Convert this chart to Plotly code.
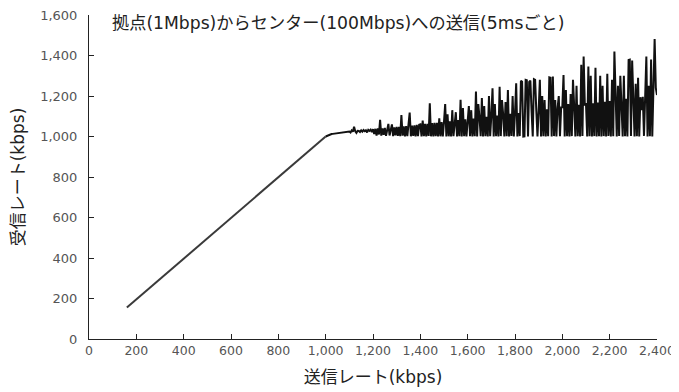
import plotly.graph_objects as go

# Linear region (sending rate below 1 Mbps)
x_linear = [160, 990, 1000]
y_linear = [155, 990, 1000]

# Saturated region: sending rate (kbps), sampled every 5 kbps
x_sat = [
    1000, 1005, 1010, 1015, 1020, 1025, 1030, 1035, 1040, 1045,
    1050, 1055, 1060, 1065, 1070, 1075, 1080, 1085, 1090, 1095,
    1100, 1105, 1110, 1115, 1120, 1125, 1130, 1135, 1140, 1145,
    1150, 1155, 1160, 1165, 1170, 1175, 1180, 1185, 1190, 1195,
    1200, 1205, 1210, 1215, 1220, 1225, 1230, 1235, 1240, 1245,
    1250, 1255, 1260, 1265, 1270, 1275, 1280, 1285, 1290, 1295,
    1300, 1305, 1310, 1315, 1320, 1325, 1330, 1335, 1340, 1345,
    1350, 1355, 1360, 1365, 1370, 1375, 1380, 1385, 1390, 1395,
    1400, 1405, 1410, 1415, 1420, 1425, 1430, 1435, 1440, 1445,
    1450, 1455, 1460, 1465, 1470, 1475, 1480, 1485, 1490, 1495,
    1500, 1505, 1510, 1515, 1520, 1525, 1530, 1535, 1540, 1545,
    1550, 1555, 1560, 1565, 1570, 1575, 1580, 1585, 1590, 1595,
    1600, 1605, 1610, 1615, 1620, 1625, 1630, 1635, 1640, 1645,
    1650, 1655, 1660, 1665, 1670, 1675, 1680, 1685, 1690, 1695,
    1700, 1705, 1710, 1715, 1720, 1725, 1730, 1735, 1740, 1745,
    1750, 1755, 1760, 1765, 1770, 1775, 1780, 1785, 1790, 1795,
    1800, 1805, 1810, 1815, 1820, 1825, 1830, 1835, 1840, 1845,
    1850, 1855, 1860, 1865, 1870, 1875, 1880, 1885, 1890, 1895,
    1900, 1905, 1910, 1915, 1920, 1925, 1930, 1935, 1940, 1945,
    1950, 1955, 1960, 1965, 1970, 1975, 1980, 1985, 1990, 1995,
    2000, 2005, 2010, 2015, 2020, 2025, 2030, 2035, 2040, 2045,
    2050, 2055, 2060, 2065, 2070, 2075, 2080, 2085, 2090, 2095,
    2100, 2105, 2110, 2115, 2120, 2125, 2130, 2135, 2140, 2145,
    2150, 2155, 2160, 2165, 2170, 2175, 2180, 2185, 2190, 2195,
    2200, 2205, 2210, 2215, 2220, 2225, 2230, 2235, 2240, 2245,
    2250, 2255, 2260, 2265, 2270, 2275, 2280, 2285, 2290, 2295,
    2300, 2305, 2310, 2315, 2320, 2325, 2330, 2335, 2340, 2345,
    2350, 2355, 2360, 2365, 2370, 2375, 2380, 2385, 2390, 2395,
    2400,
]
# Received rate (kbps)
y_sat = [
    1000, 1003, 1006, 1008, 1010, 1012, 1013, 1014, 1015, 1016,
    1017, 1018, 1019, 1020, 1020, 1021, 1022, 1022, 1023, 1024,
    1025, 1020, 1030, 1024, 1048, 1026, 1018, 1028, 1027, 1022,
    1030, 1024, 1032, 1026, 1031, 1020, 1033, 1028, 1034, 1022,
    1036, 1012, 1038, 1005, 1040, 1010, 1082, 1004, 1040, 1008,
    1042, 1003, 1043, 1062, 1005, 1044, 1060, 1002, 1045, 1006,
    1048, 1003, 1048, 1002, 1106, 1004, 1050, 1000, 1051, 1002,
    1053, 1118, 1001, 1054, 1003, 1055, 1000, 1058, 1002, 1058,
    1060, 1001, 1078, 1002, 1062, 1000, 1063, 1003, 1164, 1001,
    1066, 1000, 1067, 1002, 1068, 1000, 1090, 1001, 1071, 1000,
    1073, 1160, 1000, 1110, 1001, 1075, 1000, 1130, 1002, 1078,
    1120, 1000, 1081, 1002, 1181, 1000, 1140, 1001, 1085, 1000,
    1087, 1150, 1001, 1130, 1000, 1089, 1002, 1222, 1000, 1160,
    1094, 1001, 1190, 1000, 1150, 1002, 1097, 1000, 1200, 1001,
    1101, 1238, 1000, 1160, 1001, 1104, 1000, 1245, 1002, 1180,
    1108, 1000, 1170, 1001, 1230, 1000, 1112, 1003, 1200, 1000,
    1115, 1263, 1000, 1116, 1002, 1275, 1270, 1000, 1001, 1280,
    1278, 1000, 1270, 1276, 1125, 1000, 1283, 1280, 1128, 1000,
    1130, 1280, 1000, 1200, 1002, 1180, 1000, 1134, 1001, 1292,
    1290, 1000, 1296, 1002, 1180, 1000, 1142, 1200, 1001, 1144,
    1145, 1304, 1000, 1230, 1001, 1160, 1000, 1210, 1002, 1280,
    1152, 1000, 1250, 1001, 1156, 1000, 1354, 1002, 1395, 1158,
    1160, 1000, 1346, 1001, 1300, 1000, 1164, 1002, 1340, 1000,
    1168, 1001, 1300, 1000, 1250, 1002, 1172, 1000, 1310, 1003,
    1175, 1000, 1280, 1001, 1420, 1178, 1000, 1250, 1002, 1300,
    1182, 1000, 1300, 1001, 1186, 1000, 1378, 1380, 1002, 1375,
    1190, 1000, 1260, 1001, 1290, 1000, 1194, 1130, 1196, 1003,
    1197, 1395, 1000, 1250, 1001, 1380, 1000, 1203, 1481, 1240,
    1205,
]

x_ticks = [0, 200, 400, 600, 800, 1000, 1200, 1400, 1600, 1800, 2000, 2200, 2400]
y_ticks = [0, 200, 400, 600, 800, 1000, 1200, 1400, 1600]

title_text = "拠点(1Mbps)からセンター(100Mbps)への送信(5msごと)"
x_title = "送信レート(kbps)"
y_title = "受信レート(kbps)"

font_family = "DejaVu Sans, Noto Sans CJK JP"

fig = go.Figure()
fig.add_trace(go.Scatter(x=x_linear, y=y_linear, mode="lines",
                         line=dict(color="#3a3a3a", width=2), showlegend=False,
                         hoverinfo="skip"))
fig.add_trace(go.Scatter(x=x_sat, y=y_sat, mode="lines",
                         line=dict(color="#111111", width=2), showlegend=False,
                         hoverinfo="skip"))

fig.add_annotation(text=title_text, xref="paper", yref="paper",
                   x=0.037, y=0.975, xanchor="left", yanchor="middle",
                   showarrow=False,
                   font=dict(family=font_family, size=17.2, color="#222"))

# The page body has an 8px default margin, so the figure is sized to fit.
fig.update_layout(
    width=671, height=384,
    margin=dict(l=81, r=22, t=7, b=53),
    paper_bgcolor="white", plot_bgcolor="white",
    font=dict(family=font_family, color="#555", size=13),
    xaxis=dict(range=[0, 2400], tickvals=x_ticks, tickformat=",d",
               ticks="inside", ticklen=5, tickcolor="#222",
               showline=True, linecolor="#222", linewidth=1,
               showgrid=False, zeroline=False, automargin=False,
               ticklabeloverflow="allow",
               title=dict(text=x_title, font=dict(size=17, color="#222"), standoff=14),
               tickfont=dict(size=12.5, color="#555")),
    yaxis=dict(range=[0, 1600], tickvals=y_ticks, tickformat=",d",
               ticks="inside", ticklen=5, tickcolor="#222",
               showline=True, linecolor="#222", linewidth=1,
               showgrid=False, zeroline=False, automargin=False,
               ticklabelstandoff=8, ticklabeloverflow="allow",
               title=dict(text=y_title, font=dict(size=17, color="#222"), standoff=20),
               tickfont=dict(size=13, color="#555")),
)

fig.write_html("out.html")
